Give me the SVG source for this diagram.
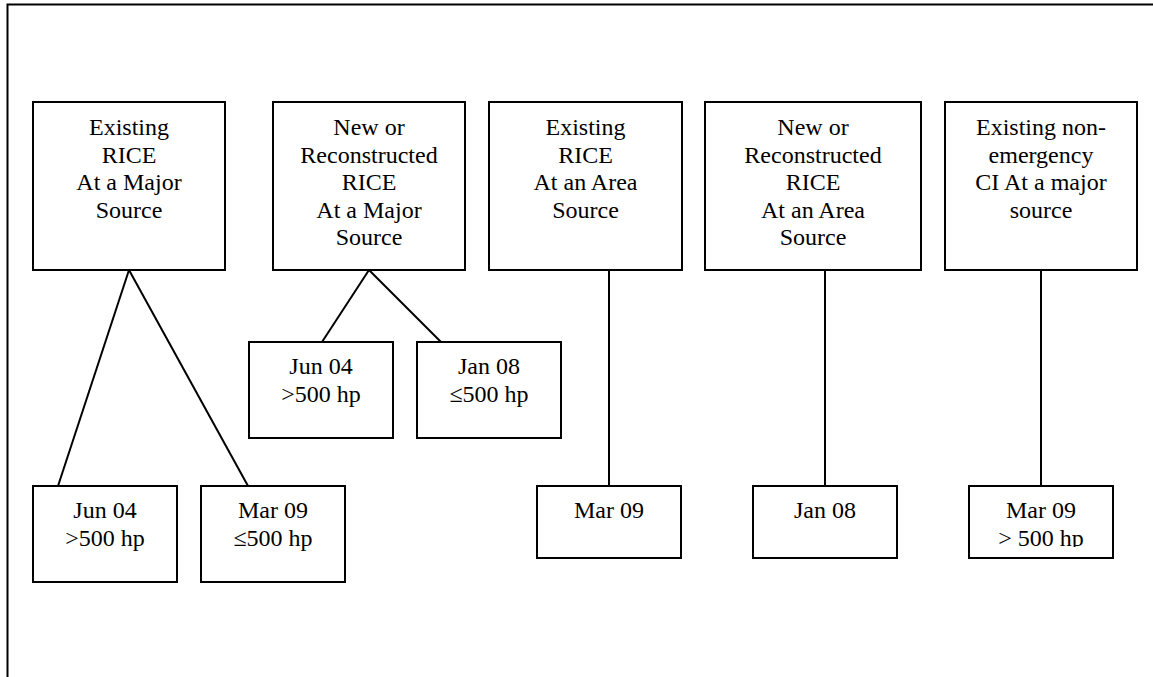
<svg xmlns="http://www.w3.org/2000/svg" width="1153" height="677" viewBox="0 0 1153 677">
<style>
.box{fill:#fff;stroke:#000;stroke-width:2}
.frame{fill:none;stroke:#000;stroke-width:2}
.con{stroke:#000;stroke-width:2;fill:none}
text{font-family:"Liberation Serif","Times New Roman",serif;font-size:24px;fill:#000;text-anchor:middle}
</style>
<defs>
<clipPath id="clip5"><rect x="969" y="486" width="144" height="61"/></clipPath>
</defs>
<rect width="1153" height="677" fill="#fff"/>
<path class="frame" d="M7.5,680 V4.5 H1160"/>
<g id="connectors">
<line class="con" x1="129" y1="270" x2="58" y2="486"/>
<line class="con" x1="129" y1="270" x2="248" y2="486"/>
<line class="con" x1="369" y1="270" x2="322" y2="342"/>
<line class="con" x1="369" y1="270" x2="441" y2="342"/>
<line class="con" x1="609" y1="270" x2="609" y2="486"/>
<line class="con" x1="825" y1="270" x2="825" y2="486"/>
<line class="con" x1="1041" y1="270" x2="1041" y2="486"/>
</g>
<g id="n1">
<rect class="box" x="33" y="102" width="192" height="168"/>
<text x="129" y="135">Existing</text>
<text x="129" y="162.6">RICE</text>
<text x="129" y="190.2">At a Major</text>
<text x="129" y="217.8">Source</text>
</g>
<g id="n2">
<rect class="box" x="273" y="102" width="192" height="168"/>
<text x="369" y="135">New or</text>
<text x="369" y="162.6">Reconstructed</text>
<text x="369" y="190.2">RICE</text>
<text x="369" y="217.8">At a Major</text>
<text x="369" y="245.4">Source</text>
</g>
<g id="n3">
<rect class="box" x="489" y="102" width="193" height="168"/>
<text x="585.5" y="135">Existing</text>
<text x="585.5" y="162.6">RICE</text>
<text x="585.5" y="190.2">At an Area</text>
<text x="585.5" y="217.8">Source</text>
</g>
<g id="n4">
<rect class="box" x="705" y="102" width="216" height="168"/>
<text x="813" y="135">New or</text>
<text x="813" y="162.6">Reconstructed</text>
<text x="813" y="190.2">RICE</text>
<text x="813" y="217.8">At an Area</text>
<text x="813" y="245.4">Source</text>
</g>
<g id="n5">
<rect class="box" x="945" y="102" width="192" height="168"/>
<text x="1041" y="135">Existing non-</text>
<text x="1041" y="162.6">emergency</text>
<text x="1041" y="190.2">CI At a major</text>
<text x="1041" y="217.8">source</text>
</g>
<g id="n1a">
<rect class="box" x="33" y="486" width="144" height="96"/>
<text x="105" y="518.4">Jun 04</text>
<text x="105" y="546">&gt;500 hp</text>
</g>
<g id="n1b">
<rect class="box" x="201" y="486" width="144" height="96"/>
<text x="273" y="518.4">Mar 09</text>
<text x="273" y="546">≤500 hp</text>
</g>
<g id="n2a">
<rect class="box" x="249" y="342" width="144" height="96"/>
<text x="321" y="374.4">Jun 04</text>
<text x="321" y="402">&gt;500 hp</text>
</g>
<g id="n2b">
<rect class="box" x="417" y="342" width="144" height="96"/>
<text x="489" y="374.4">Jan 08</text>
<text x="489" y="402">≤500 hp</text>
</g>
<g id="n3a">
<rect class="box" x="537" y="486" width="144" height="72"/>
<text x="609" y="518.4">Mar 09</text>
</g>
<g id="n4a">
<rect class="box" x="753" y="486" width="144" height="72"/>
<text x="825" y="518.4">Jan 08</text>
</g>
<g id="n5a">
<rect class="box" x="969" y="486" width="144" height="72"/>
<text x="1041" y="518.4">Mar 09</text>
<text x="1041" y="546" clip-path="url(#clip5)">&gt; 500 hp</text>
</g>
</svg>
